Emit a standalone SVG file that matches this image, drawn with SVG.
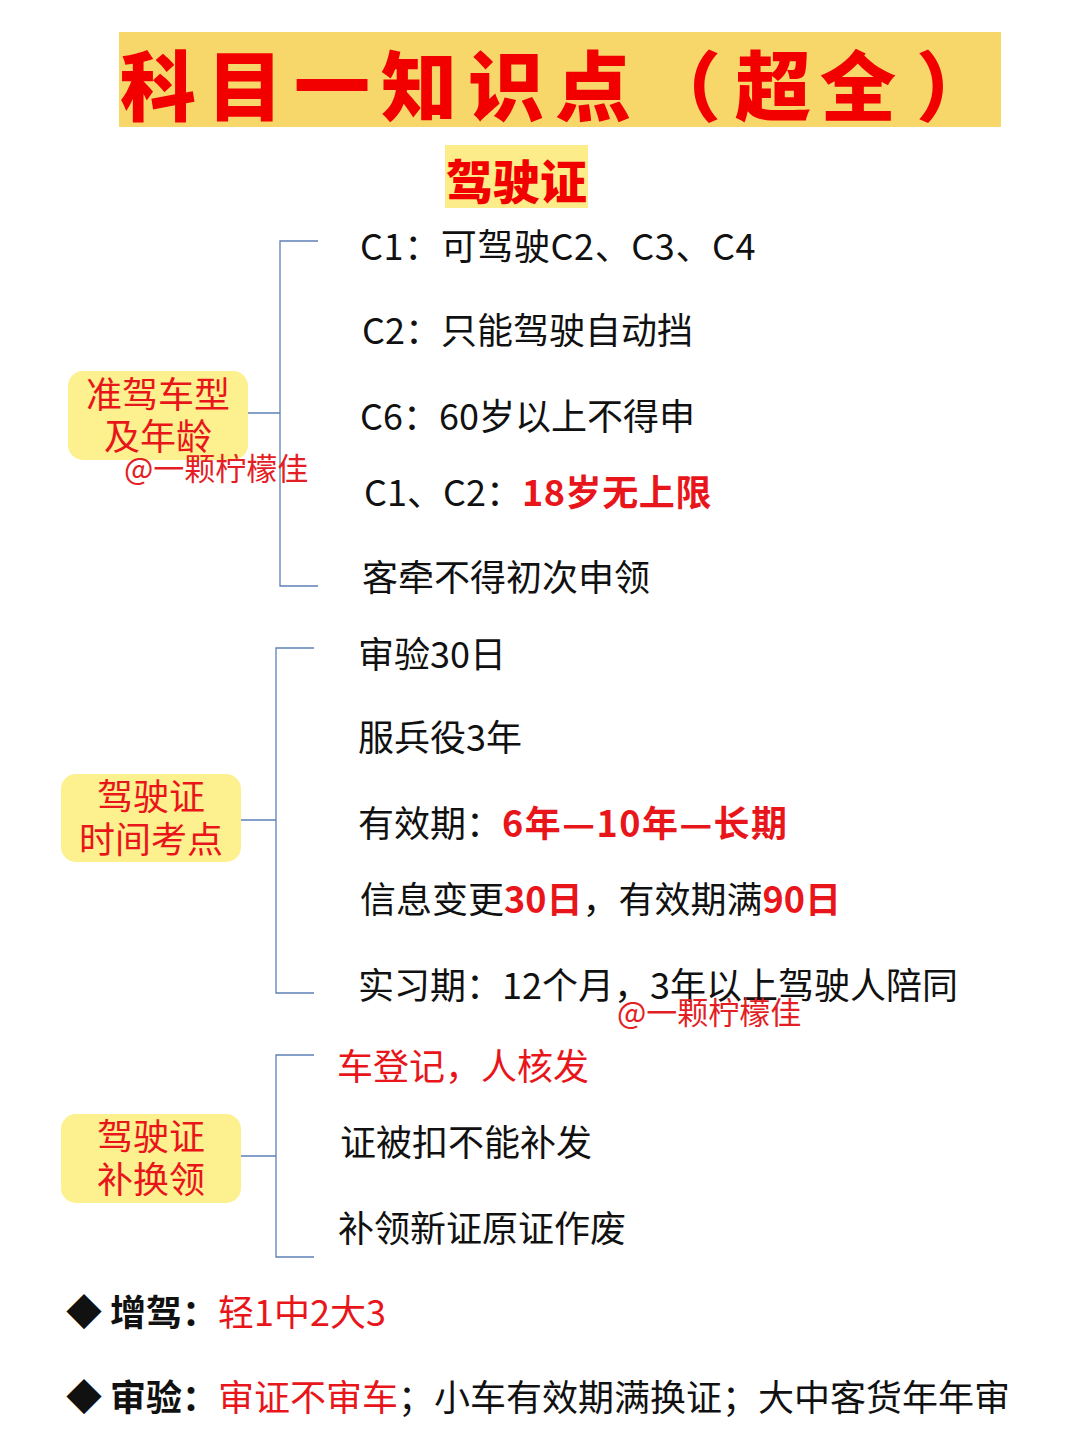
<svg xmlns="http://www.w3.org/2000/svg" width="1080" height="1440" viewBox="0 0 1080 1440">
<style>
text{font-family:"Noto Sans CJK SC","Noto Sans",sans-serif;}
.it{font-size:36px;fill:#111;}
.rd{fill:#E8161B;}
.b{font-weight:700;}
.nd{fill:#FDF08E;}
.nt{font-size:36px;fill:#E8161B;text-anchor:middle;}
.wm{font-size:31px;fill:#E31E24;}
.cn{fill:none;stroke:#5E80B8;stroke-width:1.3;}
</style>
<rect width="1080" height="1440" fill="#fff"/>
<g id="title">
<rect x="119" y="32" width="882" height="95" fill="#F8D76A"/>
<text x="120 207 294 381 468 555 645 735 820 916" y="115" font-size="76" font-weight="900" fill="#F20000">科目一知识点（超全）</text>
</g>
<g id="subtitle">
<rect x="445" y="145" width="143" height="63" fill="#FCEC8A"/>
<text x="516.5" y="199" font-size="47" font-weight="900" fill="#F20000" text-anchor="middle">驾驶证</text>
</g>
<g id="connectors">
<path class="cn" d="M248 413H280M318 241H280V586H318"/>
<path class="cn" d="M241 820H276M314 648H276V993H314"/>
<path class="cn" d="M241 1156H276M314 1055H276V1257H314"/>
</g>
<g id="node-age">
<rect class="nd" x="68" y="371" width="180" height="89" rx="15"/>
<text class="nt" x="158" y="408">准驾车型</text>
<text class="nt" x="158" y="450">及年龄</text>
</g>
<g id="node-time">
<rect class="nd" x="61" y="774" width="180" height="88" rx="15"/>
<text class="nt" x="151" y="810">驾驶证</text>
<text class="nt" x="151" y="853">时间考点</text>
</g>
<g id="node-replace">
<rect class="nd" x="61" y="1114" width="180" height="89" rx="15"/>
<text class="nt" x="151" y="1150">驾驶证</text>
<text class="nt" x="151" y="1193">补换领</text>
</g>
<g id="items-age">
<text class="it" x="360" y="260" letter-spacing="0.6">C1：可驾驶C2、C3、C4</text>
<text class="it" x="362" y="344">C2：只能驾驶自动挡</text>
<text class="it" x="360" y="430">C6：60岁以上不得申</text>
<text class="it" x="364" y="506">C1、C2：<tspan class="rd b" letter-spacing="0.6">18岁无上限</tspan></text>
<text class="it" x="362" y="591">客牵不得初次申领</text>
</g>
<g id="items-time">
<text class="it" x="358" y="668">审验30日</text>
<text class="it" x="358" y="751">服兵役3年</text>
<text class="it" x="358" y="837">有效期：<tspan class="rd b" letter-spacing="1.5">6年—10年—长期</tspan></text>
<text class="it" x="360" y="913">信息变更<tspan class="rd b">30日</tspan>，有效期满<tspan class="rd b">90日</tspan></text>
<text class="it" x="358" y="999">实习期：12个月，3年以上驾驶人陪同</text>
</g>
<g id="items-replace">
<text class="it rd" x="337" y="1080">车登记，人核发</text>
<text class="it" x="340" y="1156">证被扣不能补发</text>
<text class="it" x="338" y="1242">补领新证原证作废</text>
</g>
<g id="bottom">
<text class="it" x="66" y="1326" font-size="32">◆</text>
<text class="it" x="110" y="1326"><tspan class="b">增驾：</tspan><tspan class="rd">轻1中2大3</tspan></text>
<text class="it" x="66" y="1411" font-size="32">◆</text>
<text class="it" x="110" y="1411"><tspan class="b">审验：</tspan><tspan class="rd">审证不审车</tspan>；小车有效期满换证；大中客货年年审</text>
</g>
<g id="watermarks">
<text class="wm" x="124" y="480">@一颗柠檬佳</text>
<text class="wm" x="617" y="1024">@一颗柠檬佳</text>
</g>
</svg>
